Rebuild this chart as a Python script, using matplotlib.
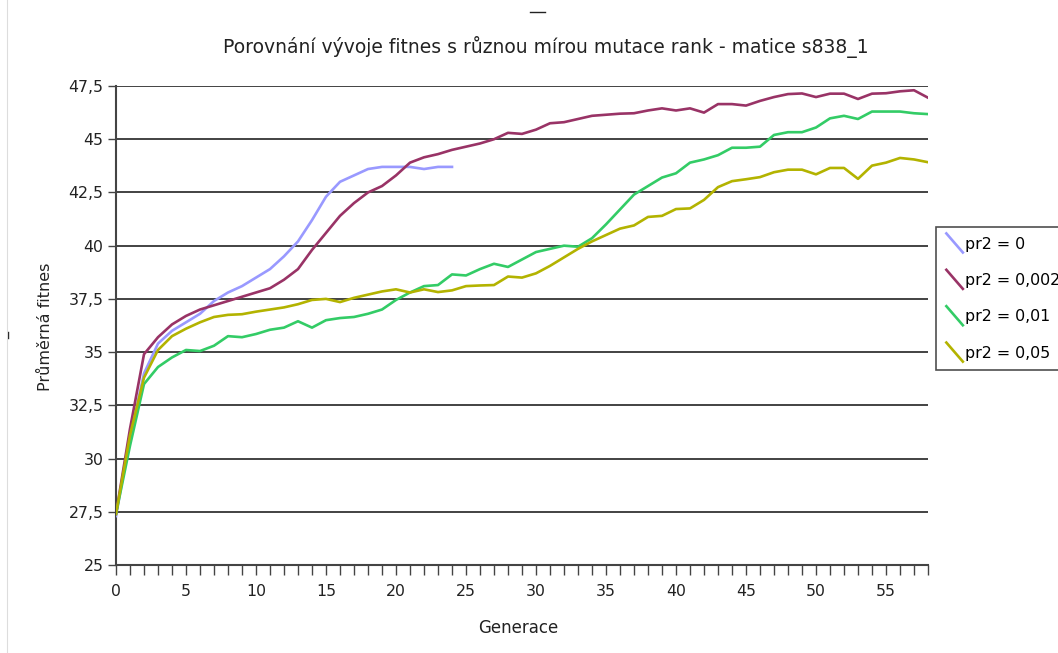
import matplotlib
matplotlib.use("Agg")
import matplotlib.pyplot as plt
from matplotlib.lines import Line2D
from matplotlib.legend_handler import HandlerBase
from matplotlib.ticker import MultipleLocator, FuncFormatter

title = "Porovnání vývoje fitnes s různou mírou mutace rank - matice s838_1"
xlabel = "Generace"
ylabel = "Průměrná fitnes"
labels = ["pr2 = 0", "pr2 = 0,002", "pr2 = 0,01", "pr2 = 0,05"]
colors = ["#9999ff", "#993366", "#33cc66", "#b3b300"]

pr2_0 = [27.3, 31.0, 34.0, 35.4, 36.0, 36.4, 36.8, 37.4, 37.8, 38.1, 38.5, 38.9,
         39.5, 40.2, 41.2, 42.3, 43.0, 43.3, 43.6, 43.7, 43.7, 43.7, 43.6, 43.7, 43.7]
pr2_0002 = [27.4, 31.4, 34.9, 35.7, 36.3, 36.7, 37.0, 37.2, 37.4, 37.6, 37.8, 38.0,
            38.4, 38.9, 39.8, 40.6, 41.4, 42.0, 42.5, 42.8, 43.3, 43.9, 44.15, 44.3,
            44.5, 44.65, 44.8, 45.0, 45.3, 45.25, 45.45, 45.75, 45.8, 45.95, 46.1,
            46.15, 46.2, 46.22, 46.35, 46.45, 46.35, 46.45, 46.25, 46.65, 46.65,
            46.58, 46.8, 46.98, 47.12, 47.15, 46.98, 47.14, 47.14, 46.89, 47.14,
            47.16, 47.25, 47.3, 46.95]
pr2_001 = [27.4, 30.6, 33.5, 34.3, 34.75, 35.1, 35.05, 35.3, 35.75, 35.7, 35.85,
           36.05, 36.15, 36.45, 36.15, 36.5, 36.6, 36.65, 36.8, 37.0, 37.45, 37.8,
           38.1, 38.15, 38.65, 38.6, 38.9, 39.15, 39.0, 39.35, 39.7, 39.85, 40.0,
           39.95, 40.35, 41.0, 41.7, 42.4, 42.8, 43.2, 43.4, 43.9, 44.05, 44.25,
           44.6, 44.6, 44.65, 45.2, 45.33, 45.33, 45.55, 45.98, 46.1, 45.95, 46.3,
           46.3, 46.3, 46.22, 46.18]
pr2_005 = [27.4, 31.1, 33.8, 35.1, 35.75, 36.1, 36.4, 36.65, 36.75, 36.78, 36.9,
           37.0, 37.1, 37.25, 37.45, 37.5, 37.35, 37.55, 37.7, 37.85, 37.95, 37.8,
           37.95, 37.82, 37.9, 38.1, 38.13, 38.15, 38.55, 38.5, 38.7, 39.05, 39.45,
           39.85, 40.2, 40.5, 40.8, 40.95, 41.35, 41.4, 41.72, 41.75, 42.15, 42.75,
           43.03, 43.12, 43.22, 43.45, 43.57, 43.57, 43.35, 43.65, 43.65, 43.14,
           43.76, 43.9, 44.12, 44.05, 43.92]
series = [pr2_0, pr2_0002, pr2_001, pr2_005]


class DiagHandler(HandlerBase):
    def create_artists(self, legend, orig_handle, xdescent, ydescent, width,
                       height, fontsize, trans):
        ln = Line2D([0 - xdescent, width - xdescent],
                    [height * 1.45 - ydescent, -height * 0.45 - ydescent],
                    color=orig_handle.get_color(), lw=orig_handle.get_linewidth(),
                    solid_capstyle="butt")
        ln.set_transform(trans)
        return [ln]


plt.rcParams['font.family'] = ['DejaVu Sans']
fig = plt.figure(figsize=(10.58, 6.53), dpi=100)
W, H = 1058, 653
L, R, T, B = 116, 928, 86, 565
ax = fig.add_axes([L / W, 1 - B / H, (R - L) / W, (B - T) / H])

handles = []
for vals, lab, col in zip(series, labels, colors):
    h, = ax.plot(range(len(vals)), vals, color=col, lw=1.9, label=lab,
                 solid_joinstyle="round", zorder=3)
    handles.append(h)

ax.set_xlim(0, 58)
ax.set_ylim(25, 47.5)
ax.yaxis.set_major_locator(MultipleLocator(2.5))
ax.xaxis.set_major_locator(MultipleLocator(5))
ax.xaxis.set_minor_locator(MultipleLocator(1))
fmt = FuncFormatter(lambda v, p: ("%g" % v).replace(".", ","))
ax.yaxis.set_major_formatter(fmt)
ax.xaxis.set_major_formatter(fmt)
ax.grid(axis="y", color="#222222", lw=1.2, zorder=1)
for s in ["top", "right"]:
    ax.spines[s].set_visible(False)
for s in ["left", "bottom"]:
    ax.spines[s].set_color("#444444")
    ax.spines[s].set_linewidth(1.5)
ax.tick_params(axis="y", which="major", length=6, width=1, color="#444444",
               labelsize=11.3, pad=3, labelcolor="#222222")
ax.tick_params(axis="x", which="both", length=7, width=1, color="#444444",
               labelsize=11.3, pad=7, labelcolor="#222222")
ax.tick_params(axis="x", which="minor", length=7)

fig.text(546 / W, 1 - 47 / H, title, ha="center", va="center",
         fontsize=13.5, color="#222222")
fig.text(518 / W, 1 - 628 / H, xlabel, ha="center", va="center",
         fontsize=12, color="#222222")
fig.text(45 / W, 1 - 327 / H, ylabel, ha="center", va="center", rotation=90,
         fontsize=11.5, color="#222222")

leg = fig.legend(handles, labels, loc="upper left",
                 bbox_to_anchor=(936 / W, 1 - 227 / H),
                 handler_map={Line2D: DiagHandler()}, fontsize=11.4,
                 frameon=True, fancybox=False, edgecolor="#222222",
                 handlelength=1.15, handletextpad=0.1, labelspacing=1.35,
                 borderpad=0.6, borderaxespad=0)
leg.get_frame().set_linewidth(1.2)

fig.add_artist(Line2D([530 / W, 545 / W], [1 - 12 / H, 1 - 12 / H],
                      color="#222222", lw=1))
fig.add_artist(Line2D([8 / W, 8 / W], [1 - 332 / H, 1 - 338 / H],
                      color="#222222", lw=1))
fig.add_artist(Line2D([7 / W, 7 / W], [0, 1], color="#dddddd", lw=0.8))

fig.savefig("out.png", dpi=100)
